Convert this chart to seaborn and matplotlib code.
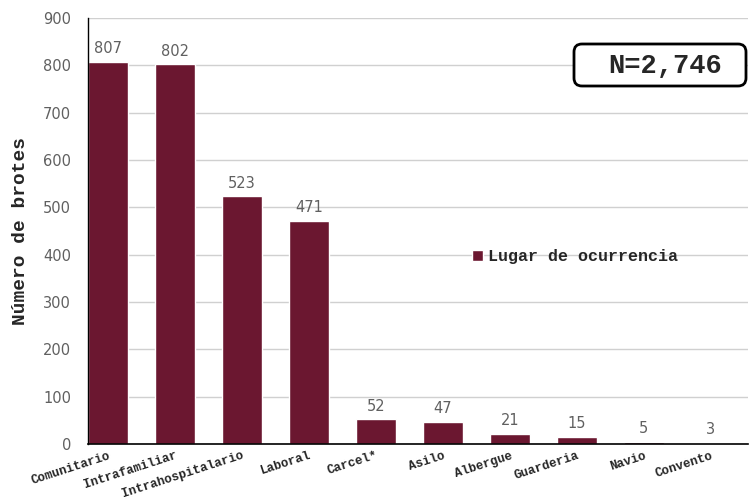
import matplotlib
matplotlib.use("Agg")
import matplotlib.pyplot as plt
from matplotlib.patches import FancyBboxPatch
import seaborn as sns
import pandas as pd

# data
lugares = ["Comunitario", "Intrafamiliar", "Intrahospitalario", "Laboral", "Carcel*",
           "Asilo", "Albergue", "Guarderia", "Navio", "Convento"]
brotes = [807, 802, 523, 471, 52, 47, 21, 15, 5, 3]
total_label = "N=2,746"
serie = "Lugar de ocurrencia"

bar_color = "#6b1730"
mono = "Liberation Mono"
gray_txt = "#606060"

df = pd.DataFrame({"lugar": lugares, "brotes": brotes})

sns.set_style("white")

fig = plt.figure(figsize=(7.5, 5), dpi=100)
ax = fig.add_axes([0.117, 0.112, 0.88, 0.852])

sns.barplot(data=df, x="lugar", y="brotes", color=bar_color, width=0.6,
            saturation=1, ax=ax, label=serie)

ax.set_ylim(0, 900)
ax.set_xlim(-0.3, 9.55)
ax.set_yticks(range(0, 901, 100))
ax.yaxis.grid(True, color="#d0d0d0", linewidth=1)
ax.set_axisbelow(True)
for s in ["top", "right"]:
    ax.spines[s].set_visible(False)
ax.spines["left"].set_color("black")
ax.spines["bottom"].set_color("black")
ax.spines["left"].set_linewidth(1)
ax.spines["bottom"].set_linewidth(1.2)

ax.tick_params(axis="y", labelsize=10.5, labelcolor=gray_txt, length=0, pad=12)
ax.tick_params(axis="x", length=0, pad=4)
ax.set_xticks(range(len(lugares)))
ax.set_xticklabels(lugares, rotation=18, ha="right", rotation_mode="anchor",
                   fontfamily=mono, fontweight="bold", fontsize=9)

# value labels above bars
for i, v in enumerate(brotes):
    ax.text(i, v + 12, str(v), ha="center", va="bottom", fontsize=10.5, color=gray_txt)

ax.set_xlabel("")
ax.set_ylabel("Número de brotes", fontfamily=mono, fontweight="bold", fontsize=14, labelpad=10)

leg = ax.legend(loc="center left", bbox_to_anchor=(0.56, 0.44), frameon=False,
                handlelength=0.65, handleheight=0.65, handletextpad=0.3,
                prop={"family": mono, "weight": "bold", "size": 12})

# N box (rounded frame in inches so the corners stay round)
box = FancyBboxPatch((5.74, 4.14), 1.72, 0.42, boxstyle="round,pad=0,rounding_size=0.08",
                     transform=fig.dpi_scale_trans, fc="white", ec="black", lw=2, zorder=5)
fig.add_artist(box)
fig.text(6.65 / 7.5, 1 - 66 / 500, total_label, ha="center", va="center",
         fontfamily=mono, fontweight="bold", fontsize=19.5, zorder=6)

fig.savefig("out.png", dpi=100)
